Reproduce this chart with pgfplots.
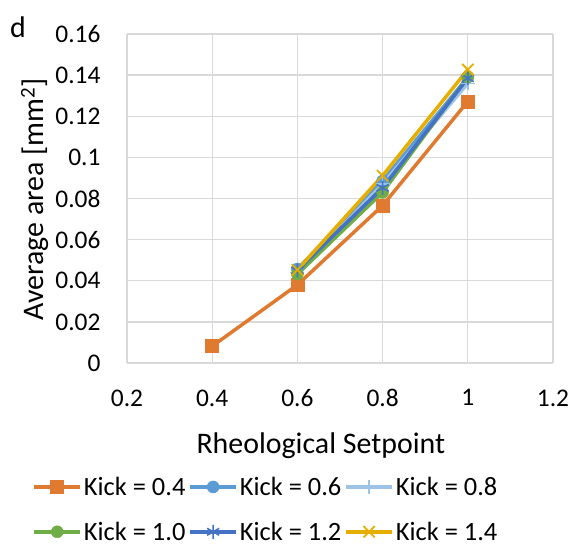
\documentclass[border=0pt]{standalone}
\usepackage{fontspec}
\setmainfont{Carlito}
\usepackage{pgfplots}
\pgfplotsset{compat=1.18}
\definecolor{cOr}{HTML}{E07A30}
\definecolor{cBl}{HTML}{5B9BD5}
\definecolor{cLb}{HTML}{9DC3E6}
\definecolor{cGr}{HTML}{70AD47}
\definecolor{cDb}{HTML}{4472C4}
\definecolor{cYe}{HTML}{E6AE00}
\definecolor{grd}{HTML}{D9D9D9}
\begin{document}
\begin{tikzpicture}
\path (0,0) rectangle (574bp,-549bp);
\begin{axis}[
  at={(127bp,-34bp)}, anchor=north west,
  scale only axis, width=426bp, height=329bp,
  xmin=0.2, xmax=1.2, ymin=0, ymax=0.16,
  xtick={0.2,0.4,...,1.2}, ytick={0,0.02,...,0.16},
  xticklabels={0.2,0.4,0.6,0.8,1,1.2},
  yticklabels={0,0.02,0.04,0.06,0.08,0.1,0.12,0.14,0.16},
  grid=major, major grid style={grd, line width=1.3bp},
  axis line style={draw=none}, tick style={draw=none},
  ticklabel style={font=\fontsize{25.5}{28}\selectfont},
  /pgf/number format/assume math mode=true,
  xticklabel style={yshift=-23bp},
  yticklabel style={xshift=-23bp},
  legend columns=3,
  legend style={draw=none, at={(rel axis cs:0.326,-0.34)}, anchor=north,
    font=\fontsize{26.5}{29}\selectfont, column sep=0bp, row sep=21bp,
    inner sep=0bp, /tikz/every even column/.append style={column sep=1bp}},
  legend image code/.code={\draw[#1, mark repeat=2, mark phase=2] plot coordinates {(0bp,0bp) (23bp,0bp) (46bp,0bp)};},
  clip=false,
]
\addplot[cOr, line width=3.5bp, mark=square*, mark size=6.5bp, mark options={line width=0.5bp}] coordinates {(0.4,0.0082) (0.6,0.0380) (0.8,0.0766) (1.0,0.1272)};
\addlegendentry{Kick = 0.4}
\addplot[cBl, line width=3.5bp, mark=*, mark size=6bp, mark options={line width=0.5bp}] coordinates {(0.6,0.0457) (0.8,0.0885) (1.0,0.1390)};
\addlegendentry{Kick = 0.6}
\addplot[cLb, line width=3.5bp, mark=+, mark size=7bp, mark options={line width=1.5bp}] coordinates {(0.6,0.0440) (0.8,0.0870) (1.0,0.1360)};
\addlegendentry{Kick = 0.8}
\addplot[cGr, line width=3.5bp, mark=*, mark size=6bp, mark options={line width=0.5bp}] coordinates {(0.6,0.0432) (0.8,0.0830) (1.0,0.1392)};
\addlegendentry{Kick = 1.0}
\addplot[cDb, line width=3.5bp, mark=asterisk, mark size=7bp, mark options={line width=1.5bp}] coordinates {(0.6,0.0450) (0.8,0.0852) (1.0,0.1385)};
\addlegendentry{Kick = 1.2}
\addplot[cYe, line width=3.5bp, mark=x, mark size=8bp, mark options={line width=1.8bp}] coordinates {(0.6,0.0453) (0.8,0.0911) (1.0,0.1427)};
\addlegendentry{Kick = 1.4}
\node[font=\fontsize{30}{34}\selectfont, rotate=90] at (rel axis cs:-0.216,0.497) {Average area [mm\textsuperscript{2}]};
\node[font=\fontsize{30}{34}\selectfont] at (rel axis cs:0.455,-0.25) {Rheological Setpoint};
\node[font=\fontsize{30}{34}\selectfont] at (rel axis cs:-0.256,1.02) {d};
\end{axis}
\end{tikzpicture}
\end{document}
